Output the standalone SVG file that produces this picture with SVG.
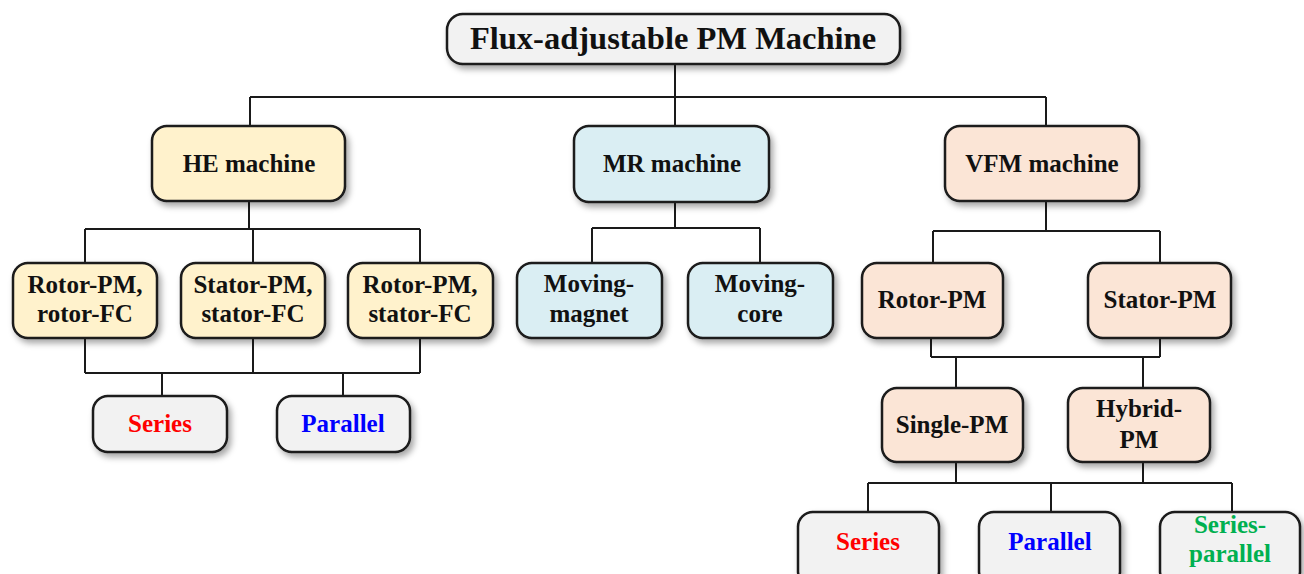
<svg xmlns="http://www.w3.org/2000/svg" width="1304" height="574" viewBox="0 0 1304 574">
<defs>
<filter id="sh" x="-10%" y="-10%" width="130%" height="140%">
<feDropShadow dx="3" dy="4" stdDeviation="3" flood-color="#000" flood-opacity="0.35"/>
</filter>
</defs>
<style>
.box{stroke:#1a1a1a;stroke-width:2.5;filter:url(#sh)}
.he{fill:#FFF2CC}
.mr{fill:#DAEEF3}
.vf{fill:#FBE5D6}
.gr{fill:#F2F2F2}
text{font-family:"Liberation Serif","Times New Roman",serif;font-weight:bold;font-size:25px;text-anchor:middle;fill:#111}
.t0{font-size:32.5px}
.red{fill:#FF0000}
.blue{fill:#0000FF}
.green{fill:#00B050}
.c{fill:none;stroke:#1a1a1a;stroke-width:2}
</style>
<rect width="1304" height="574" fill="#fff"/>
<g id="connectors">
<path class="c" d="M675 63V97M250 97H1046M250 97V126M675 97V126M1046 97V126"/>
<path class="c" d="M249 201V229M85 229H420M85 229V263M253 229V263M420 229V263"/>
<path class="c" d="M85 338V373M253 338V373M420 338V373M85 373H420M162 373V396M343 373V396"/>
<path class="c" d="M675 202V228M592 228H760M592 228V263M760 228V263"/>
<path class="c" d="M1046 201V231M933 231H1160M933 231V263M1160 231V263"/>
<path class="c" d="M931 338V357M1160 338V357M931 357H1160M956 357V388M1143 357V388"/>
<path class="c" d="M956 462V483M1143 462V483M868 483H1232M868 483V512M1051 483V512M1232 483V512"/>
</g>
<g id="root"><rect class="box gr" x="447" y="14" width="453" height="50" rx="16"/><text class="t0" x="673" y="49">Flux-adjustable PM Machine</text></g>
<g id="he"><rect class="box he" x="152" y="126" width="193" height="75" rx="15"/><text x="249" y="172">HE machine</text></g>
<g id="mr"><rect class="box mr" x="574" y="126" width="195" height="76" rx="15"/><text x="672" y="172">MR machine</text></g>
<g id="vfm"><rect class="box vf" x="945" y="126" width="194" height="75" rx="15"/><text x="1042" y="172">VFM machine</text></g>
<g id="he1"><rect class="box he" x="13" y="263" width="144" height="75" rx="15"/><text x="85" y="293">Rotor-PM,</text><text x="85" y="322">rotor-FC</text></g>
<g id="he2"><rect class="box he" x="181" y="263" width="144" height="75" rx="15"/><text x="253" y="293">Stator-PM,</text><text x="253" y="322">stator-FC</text></g>
<g id="he3"><rect class="box he" x="348" y="263" width="145" height="75" rx="15"/><text x="420" y="293">Rotor-PM,</text><text x="420" y="322">stator-FC</text></g>
<g id="mr1"><rect class="box mr" x="517" y="263" width="145" height="75" rx="15"/><text x="589" y="292">Moving-</text><text x="589" y="322">magnet</text></g>
<g id="mr2"><rect class="box mr" x="688" y="263" width="145" height="75" rx="15"/><text x="760" y="292">Moving-</text><text x="760" y="322">core</text></g>
<g id="vf1"><rect class="box vf" x="862" y="263" width="141" height="75" rx="15"/><text x="932" y="308">Rotor-PM</text></g>
<g id="vf2"><rect class="box vf" x="1088" y="263" width="143" height="75" rx="15"/><text x="1160" y="308">Stator-PM</text></g>
<g id="series1"><rect class="box gr" x="93" y="396" width="134" height="56" rx="15"/><text class="red" x="160" y="432">Series</text></g>
<g id="parallel1"><rect class="box gr" x="277" y="396" width="133" height="56" rx="15"/><text class="blue" x="343" y="432">Parallel</text></g>
<g id="single"><rect class="box vf" x="882" y="388" width="141" height="74" rx="15"/><text x="952" y="433">Single-PM</text></g>
<g id="hybrid"><rect class="box vf" x="1068" y="388" width="142" height="74" rx="15"/><text x="1139" y="417">Hybrid-</text><text x="1139" y="448">PM</text></g>
<g id="series2"><rect class="box gr" x="798" y="512" width="141" height="75" rx="15"/><text class="red" x="868" y="550">Series</text></g>
<g id="parallel2"><rect class="box gr" x="979" y="512" width="141" height="75" rx="15"/><text class="blue" x="1050" y="550">Parallel</text></g>
<g id="sp"><rect class="box gr" x="1160" y="512" width="140" height="75" rx="15"/><text class="green" x="1230" y="533">Series-</text><text class="green" x="1230" y="562">parallel</text></g>
</svg>
